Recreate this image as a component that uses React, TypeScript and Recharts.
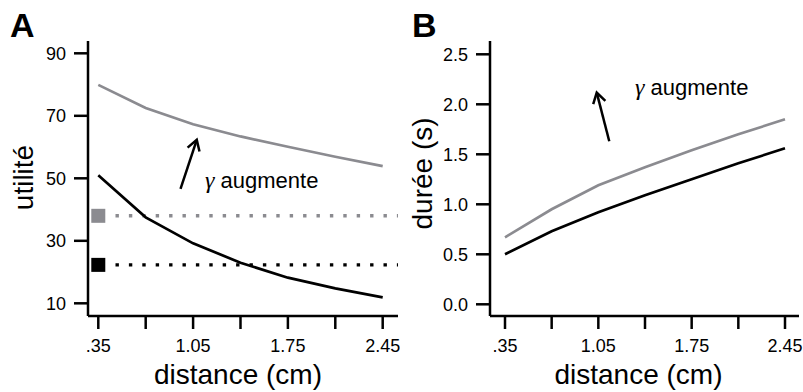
import React from 'react';
import { LineChart, Line, XAxis, YAxis, ReferenceLine, ReferenceDot, Label } from 'recharts';

// distances (cm) sampled on both panels
const distances = [0.35, 0.7, 1.05, 1.4, 1.75, 2.1, 2.45];
const labeledDistances = [0.35, 1.05, 1.75, 2.45];

// panel A: utility
const utilityLowGamma = [51, 37.5, 29.2, 23, 18.2, 14.8, 11.9];
const utilityHighGamma = [79.9, 72.5, 67.3, 63.4, 60.1, 56.9, 53.9];
const utilityTicks = [10, 30, 50, 70, 90];
const thresholdHighGamma = 38;
const thresholdLowGamma = 22.3;

// panel B: duration (s)
const durationLowGamma = [0.5, 0.73, 0.92, 1.09, 1.25, 1.41, 1.56];
const durationHighGamma = [0.67, 0.95, 1.19, 1.37, 1.54, 1.7, 1.85];
const durationTicks = [0, 0.5, 1, 1.5, 2, 2.5];

const SANS = '"Liberation Sans", Arial, Helvetica, sans-serif';
const SERIF = '"Liberation Serif", "Times New Roman", serif';
const GREY = '#8b8b90';
const AXIS_W = 2.5;

const utilityData = distances.map((d, i) => ({ d, low: utilityLowGamma[i], high: utilityHighGamma[i] }));
const durationData = distances.map((d, i) => ({ d, low: durationLowGamma[i], high: durationHighGamma[i] }));

const fmtDistance = (v: number) => {
  if (!labeledDistances.includes(v)) return '';
  return v < 1 ? String(v).replace(/^0/, '') : v.toFixed(2);
};

const tickStyle = { fill: '#000', fontSize: 18, fontFamily: SANS };
const axisLine = { stroke: '#000', strokeWidth: AXIS_W };

// arrow with an open head, drawn from (x1,y1) towards (x2,y2)
const Arrow = (p: any) => {
  const { x1, y1, x2, y2 } = p;
  const a = Math.atan2(y2 - y1, x2 - x1);
  const len = 12;
  const spread = 0.55;
  const wing = (s: number) => `${x2 - len * Math.cos(a + s)},${y2 - len * Math.sin(a + s)}`;
  return (
    <g>
      <line x1={x1} y1={y1} x2={x2 - Math.cos(a)} y2={y2 - Math.sin(a)} stroke="#000" strokeWidth={2.5} />
      <polyline points={`${wing(spread)} ${x2},${y2} ${wing(-spread)}`} fill="none" stroke="#000" strokeWidth={2.5} />
    </g>
  );
};

const GammaNote = (p: any) => (
  <text x={p.cx} y={p.cy} fontSize={22} fontFamily={SANS} fill="#000">
    <tspan fontFamily={SERIF} fontStyle="italic" fontSize={24}>γ</tspan> augmente
  </text>
);

const square = (color: string) => (p: any) => (
  <rect x={p.cx - 7} y={p.cy - 7} width={14} height={14} fill={color} />
);

const xLabel = (dx: number) => (props: any) => {
  const vb = props.viewBox;
  return (
    <text x={vb.x + vb.width / 2 + dx} y={vb.y + vb.height - 8.5} textAnchor="middle" fontSize={28} fontFamily={SANS} fill="#000">
      distance (cm)
    </text>
  );
};

const yLabel = (text: string, baseX: number, dy: number) => (props: any) => {
  const vb = props.viewBox;
  const cy = vb.y + vb.height / 2 + dy;
  return (
    <text x={baseX} y={cy} transform={`rotate(-90 ${baseX} ${cy})`} textAnchor="middle" fontSize={28} fontFamily={SANS} fill="#000">
      {text}
    </text>
  );
};

const PanelLetter = ({ left, children }: any) => (
  <div style={{ position: 'absolute', left, top: 8, fontFamily: SANS, fontWeight: 'bold', fontSize: 34, lineHeight: '34px' }}>
    {children}
  </div>
);

export default function App() {
  return (
    <div style={{ position: 'absolute', left: 0, top: 0, width: 803, height: 392, background: '#fff' }}>
      <div style={{ position: 'absolute', left: 0, top: 0 }}>
        <LineChart width={400} height={392} data={utilityData} margin={{ top: 41, right: 2, bottom: 0, left: 0 }}>
          <XAxis
            dataKey="d"
            type="number"
            domain={[0.274, 2.563]}
            ticks={distances}
            interval={0}
            tickFormatter={fmtDistance}
            height={76}
            tickSize={13}
            tickMargin={10}
            tick={tickStyle}
            axisLine={axisLine}
            tickLine={axisLine}
          >
            <Label content={xLabel(-5)} />
          </XAxis>
          <YAxis
            type="number"
            domain={[5.94, 93.94]}
            ticks={utilityTicks}
            interval={0}
            width={88}
            tickSize={14}
            tickMargin={8}
            tick={tickStyle}
            axisLine={axisLine}
            tickLine={axisLine}
          >
            <Label content={yLabel('utilité', 33, -1)} />
          </YAxis>
          <ReferenceLine
            segment={[{ x: 0.477, y: thresholdHighGamma }, { x: 2.563, y: thresholdHighGamma }]}
            stroke={GREY}
            strokeWidth={3.4}
            strokeDasharray="3.4 10"
          />
          <ReferenceLine
            segment={[{ x: 0.477, y: thresholdLowGamma }, { x: 2.563, y: thresholdLowGamma }]}
            stroke="#000"
            strokeWidth={3.4}
            strokeDasharray="3.4 10"
          />
          <ReferenceDot x={0.35} y={thresholdHighGamma} shape={square(GREY)} />
          <ReferenceDot x={0.35} y={thresholdLowGamma} shape={square('#000')} />
          <Line dataKey="high" stroke={GREY} strokeWidth={2.7} dot={false} isAnimationActive={false} />
          <Line dataKey="low" stroke="#000" strokeWidth={2.7} dot={false} isAnimationActive={false} />
          <ReferenceLine segment={[{ x: 0.957, y: 46.6 }, { x: 1.077, y: 62.3 }]} shape={Arrow} />
          <ReferenceDot x={1.138} y={46.9} shape={GammaNote} />
        </LineChart>
      </div>
      <div style={{ position: 'absolute', left: 400, top: 0 }}>
        <LineChart width={403} height={392} data={durationData} margin={{ top: 41, right: 4, bottom: 0, left: 0 }}>
          <XAxis
            dataKey="d"
            type="number"
            domain={[0.2375, 2.555]}
            ticks={distances}
            interval={0}
            tickFormatter={fmtDistance}
            height={76}
            tickSize={13}
            tickMargin={10}
            tick={tickStyle}
            axisLine={axisLine}
            tickLine={axisLine}
          >
            <Label content={xLabel(-6)} />
          </XAxis>
          <YAxis
            type="number"
            domain={[-0.117, 2.633]}
            ticks={durationTicks}
            interval={0}
            width={90}
            tickSize={14}
            tickMargin={8}
            tickFormatter={(v: number) => v.toFixed(1)}
            tick={tickStyle}
            axisLine={axisLine}
            tickLine={axisLine}
          >
            <Label content={yLabel('durée (s)', 31.5, -5)} />
          </YAxis>
          <Line dataKey="high" stroke={GREY} strokeWidth={2.7} dot={false} isAnimationActive={false} />
          <Line dataKey="low" stroke="#000" strokeWidth={2.7} dot={false} isAnimationActive={false} />
          <ReferenceLine segment={[{ x: 1.132, y: 1.63 }, { x: 1.038, y: 2.117 }]} shape={Arrow} />
          <ReferenceDot x={1.325} y={2.09} shape={GammaNote} />
        </LineChart>
      </div>
      <PanelLetter left={10}>A</PanelLetter>
      <PanelLetter left={412}>B</PanelLetter>
    </div>
  );
}
